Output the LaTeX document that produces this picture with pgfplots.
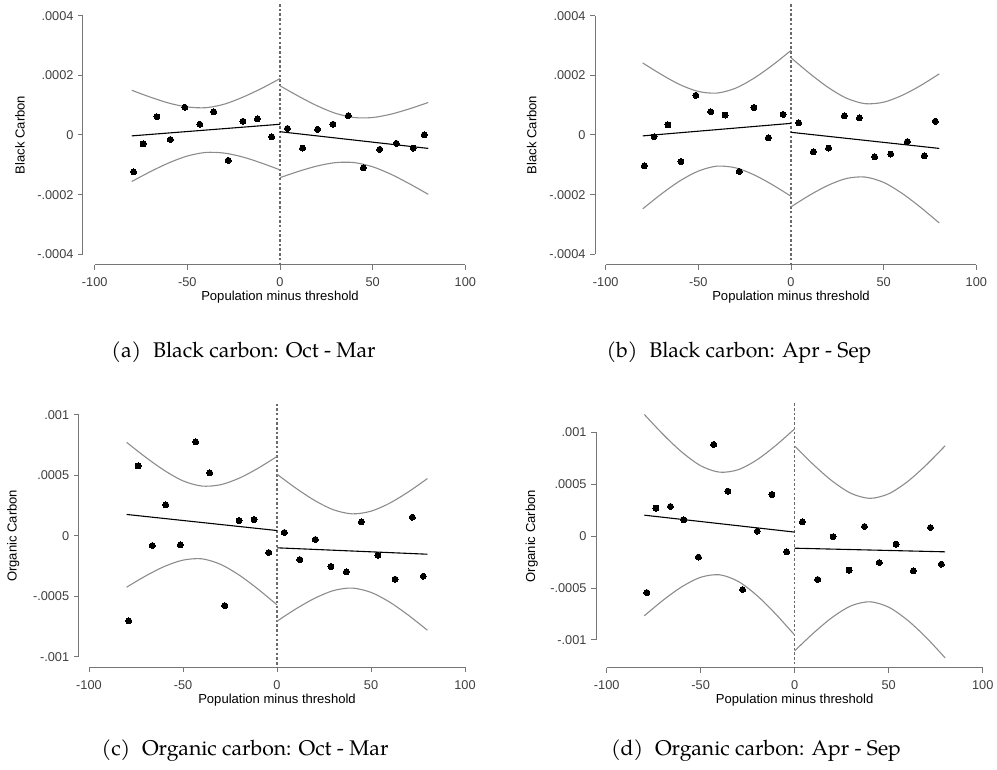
\documentclass[border=0pt]{standalone}
\usepackage{pgfplots}
\pgfplotsset{compat=1.18}
\usepackage{fontspec}
\setmainfont{Liberation Sans}
\newfontfamily\capfont{TeX Gyre Pagella}
\definecolor{axgray}{HTML}{767676}
\definecolor{lblgray}{HTML}{404040}
\definecolor{cigray}{HTML}{8C8C8C}
\definecolor{cutgray}{HTML}{6A6A6A}
\pgfplotsset{
 stata/.style={
  scale only axis,
  axis lines=left,
  axis line style={-, draw=axgray, line width=1bp},
  tick align=outside,
  major tick length=5bp,
  tick style={draw=axgray, line width=1bp},
  xmin=-100, xmax=100,
  xtick={-100,-50,0,50,100},
  xticklabels={-100,-50,0,50,100},
  scaled y ticks=false, scaled x ticks=false,
  ticklabel style={font=\fontsize{12.8}{14}\selectfont, text=lblgray},
  xticklabel style={yshift=-4.5bp},
  yticklabel style={xshift=-1bp},
  label style={font=\fontsize{13.1}{15}\selectfont, text=black},
  clip=false,
  minor tick num=0,
 },
 ci/.style={cigray, line width=1.1bp, smooth, no markers},
 fit/.style={black, line width=1.1bp, no markers},
 pts/.style={only marks, mark=*, mark size=3bp, mark options={fill=black, draw=black, line width=0pt}},
 cut/.style={cutgray, line width=1.1bp, dash pattern=on 2.5bp off 2.2bp, no markers},
}
\begin{document}
\begin{tikzpicture}
\path[use as bounding box] (0,0) rectangle (997bp,770bp);

% (a)
\begin{axis}[stata, at={(94.7bp,515.7bp)}, anchor=south west,
  width=370.6bp, height=238.6bp,
  axis x line shift=10.7bp, axis y line shift=11.7bp,
  ymin=-0.0004, ymax=0.0004,
  ytick={-0.0004,-0.0002,0,0.0002,0.0004},
  yticklabels={-.0004,-.0002,0,.0002,.0004},
  xlabel={Population minus threshold}, ylabel={Black Carbon},
  xlabel style={at={(axis description cs:0.5,-0.1957)}, anchor=base},
  ylabel style={at={(axis description cs:-0.2016,0.5)}, anchor=center}]
\addplot[cut] coordinates {(0,0.000439) (0,-0.000436)};
\addplot[ci] coordinates {(-80,0.000150) (-70,0.000127) (-60,0.000107) (-50,0.000094) (-40,0.0000915) (-30,0.0001035) (-20,0.000127) (-10,0.000156) (0,0.000189)};
\addplot[ci] coordinates {(-80,-0.000156) (-70,-0.000123) (-60,-0.0000935) (-50,-0.0000705) (-40,-0.0000585) (-30,-0.0000607) (-20,-0.000074) (-10,-0.000094) (0,-0.000117)};
\addplot[ci] coordinates {(0,0.000165) (10,0.000130) (20,0.000098) (30,0.0000726) (40,0.0000585) (50,0.0000586) (60,0.000070) (70,0.000088) (80,0.000109)};
\addplot[ci] coordinates {(0,-0.000143) (10,-0.000122) (20,-0.000104) (30,-0.0000926) (40,-0.0000925) (50,-0.0001066) (60,-0.000132) (70,-0.000164) (80,-0.000199)};
\addplot[fit] coordinates {(-80,-0.000003) (0,0.000036)};
\addplot[fit] coordinates {(0,0.000011) (80,-0.000045)};
\addplot[pts] coordinates {(-79.0,-0.000124) (-73.9,-0.000030) (-66.4,0.000061) (-59.2,-0.000015) (-51.4,0.000093) (-43.3,0.000036) (-35.8,0.000078) (-27.9,-0.000085) (-20.0,0.000046) (-12.2,0.000054) (-4.5,-0.000006) (4.0,0.000022) (12.2,-0.000044) (20.3,0.000019) (28.6,0.000036) (36.9,0.000065) (45.0,-0.000110) (53.8,-0.000048) (62.8,-0.000028) (71.9,-0.000044) (77.9,0.000001)};
\end{axis}

% (b)
\begin{axis}[stata, at={(605.7bp,515.7bp)}, anchor=south west,
  width=370.6bp, height=238.6bp,
  axis x line shift=10.7bp, axis y line shift=10.7bp,
  ymin=-0.0004, ymax=0.0004,
  ytick={-0.0004,-0.0002,0,0.0002,0.0004},
  yticklabels={-.0004,-.0002,0,.0002,.0004},
  xlabel={Population minus threshold}, ylabel={Black Carbon},
  xlabel style={at={(axis description cs:0.5,-0.1957)}, anchor=base},
  ylabel style={at={(axis description cs:-0.1997,0.5)}, anchor=center}]
\addplot[cut] coordinates {(0,0.000439) (0,-0.000436)};
\addplot[ci] coordinates {(-80,0.0002415) (-70,0.000203) (-60,0.000169) (-50,0.000146) (-40,0.0001405) (-30,0.0001567) (-20,0.0001904) (-10,0.000234) (0,0.0002835)};
\addplot[ci] coordinates {(-80,-0.0002475) (-70,-0.000198) (-60,-0.000154) (-50,-0.000121) (-40,-0.0001045) (-30,-0.000110) (-20,-0.0001334) (-10,-0.000167) (0,-0.0002055)};
\addplot[ci] coordinates {(0,0.000259) (10,0.0002067) (20,0.0001597) (30,0.0001232) (40,0.000105) (50,0.000110) (60,0.000133) (70,0.000166) (80,0.000205)};
\addplot[ci] coordinates {(0,-0.000241) (10,-0.000202) (20,-0.0001687) (30,-0.0001457) (40,-0.000141) (50,-0.000159) (60,-0.000196) (70,-0.000243) (80,-0.000295)};
\addplot[fit] coordinates {(-80,-0.000003) (0,0.000039)};
\addplot[fit] coordinates {(0,0.000009) (80,-0.000045)};
\addplot[pts] coordinates {(-79.1,-0.000103) (-73.9,-0.000006) (-66.4,0.000034) (-59.4,-0.000089) (-51.4,0.000133) (-43.3,0.000078) (-35.6,0.000067) (-27.9,-0.000122) (-20.0,0.000092) (-12.2,-0.000009) (-4.3,0.000069) (4.1,0.000041) (12.1,-0.000056) (20.3,-0.000044) (28.8,0.000064) (36.9,0.000057) (45.1,-0.000073) (53.8,-0.000064) (62.8,-0.000022) (71.9,-0.000070) (77.9,0.000046)};
\end{axis}

% (c)
\begin{axis}[stata, at={(89bp,113.3bp)}, anchor=south west,
  width=376bp, height=241.7bp,
  axis x line shift=10.6bp, axis y line shift=10.3bp,
  ymin=-0.001, ymax=0.001,
  ytick={-0.001,-0.0005,0,0.0005,0.001},
  yticklabels={-.001,-.0005,0,.0005,.001},
  xlabel={Population minus threshold}, ylabel={Organic Carbon},
  xlabel style={at={(axis description cs:0.5,-0.1928)}, anchor=base},
  ylabel style={at={(axis description cs:-0.2013,0.5)}, anchor=center}]
\addplot[cut] coordinates {(0,0.001095) (0,-0.001088)};
\addplot[ci] coordinates {(-80,0.000774) (-70,0.000652) (-60,0.000542) (-50,0.000455) (-40,0.000412) (-30,0.000423) (-20,0.000478) (-10,0.000560) (0,0.000657)};
\addplot[ci] coordinates {(-80,-0.000425) (-70,-0.000333) (-60,-0.000254) (-50,-0.000201) (-40,-0.000190) (-30,-0.000236) (-20,-0.000326) (-10,-0.000442) (0,-0.000571)};
\addplot[ci] coordinates {(0,0.000510) (10,0.000395) (20,0.000293) (30,0.000216) (40,0.000182) (50,0.000204) (60,0.000271) (70,0.000365) (80,0.000474)};
\addplot[ci] coordinates {(0,-0.000706) (10,-0.000605) (20,-0.000517) (30,-0.000453) (40,-0.000432) (50,-0.000468) (60,-0.000549) (70,-0.000658) (80,-0.000781)};
\addplot[fit] coordinates {(-80,0.000177) (0,0.000044)};
\addplot[fit] coordinates {(0,-0.000099) (80,-0.000152)};
\addplot[pts] coordinates {(-78.9,-0.000703) (-73.9,0.000579) (-66.3,-0.000080) (-59.2,0.000257) (-51.4,-0.000074) (-43.3,0.000778) (-35.8,0.000521) (-27.8,-0.000577) (-20.2,0.000127) (-12.2,0.000135) (-4.4,-0.000138) (3.9,0.000028) (12.1,-0.000196) (20.4,-0.000030) (28.7,-0.000254) (36.9,-0.000298) (44.9,0.000116) (53.7,-0.000160) (62.8,-0.000359) (72.0,0.000154) (77.8,-0.000334)};
\end{axis}

% (d)
\begin{axis}[stata, at={(606.7bp,130bp)}, anchor=south west,
  width=376bp, height=207.7bp,
  axis x line shift=27.7bp, axis y line shift=10.7bp,
  ymin=-0.001, ymax=0.001,
  ytick={-0.001,-0.0005,0,0.0005,0.001},
  yticklabels={-.001,-.0005,0,.0005,.001},
  xlabel={Population minus threshold}, ylabel={Organic Carbon},
  xlabel style={at={(axis description cs:0.5,-0.3067)}, anchor=base},
  ylabel style={at={(axis description cs:-0.1995,0.5)}, anchor=center}]
\addplot[cut] coordinates {(0,0.001279) (0,-0.001267)};
\addplot[ci] coordinates {(-80,0.001172) (-70,0.000980) (-60,0.000809) (-50,0.000678) (-40,0.000616) (-30,0.000640) (-20,0.000736) (-10,0.000874) (0,0.001034)};
\addplot[ci] coordinates {(-80,-0.000767) (-70,-0.000617) (-60,-0.000487) (-50,-0.000396) (-40,-0.000372) (-30,-0.000436) (-20,-0.000573) (-10,-0.000752) (0,-0.000953)};
\addplot[ci] coordinates {(0,0.000867) (10,0.000688) (20,0.000530) (30,0.000412) (40,0.000364) (50,0.000408) (60,0.000525) (70,0.000686) (80,0.000870)};
\addplot[ci] coordinates {(0,-0.001104) (10,-0.000933) (20,-0.000782) (30,-0.000671) (40,-0.000632) (50,-0.000684) (60,-0.000809) (70,-0.000977) (80,-0.001172)};
\addplot[fit] coordinates {(-80,0.000202) (0,0.000039)};
\addplot[fit] coordinates {(0,-0.000116) (80,-0.000151)};
\addplot[pts] coordinates {(-78.7,-0.000543) (-73.8,0.000270) (-66.1,0.000286) (-59.0,0.000157) (-51.2,-0.000202) (-43.1,0.000883) (-35.5,0.000433) (-27.7,-0.000514) (-19.9,0.000048) (-12.1,0.000401) (-4.3,-0.000151) (4.1,0.000138) (12.2,-0.000417) (20.4,-0.000006) (28.9,-0.000327) (37.1,0.000093) (45.0,-0.000254) (53.9,-0.000077) (63.1,-0.000334) (72.2,0.000083) (78.0,-0.000270)};
\end{axis}

\node[font=\capfont\fontsize{21.3}{25}\selectfont, anchor=base] at (243.5bp,412.7bp) {(a)\hspace{0.55em}Black carbon: Oct - Mar};
\node[font=\capfont\fontsize{21.3}{25}\selectfont, anchor=base] at (739bp,412.7bp) {(b)\hspace{0.55em}Black carbon: Apr - Sep};
\node[font=\capfont\fontsize{21.3}{25}\selectfont, anchor=base] at (245bp,14.5bp) {(c)\hspace{0.55em}Organic carbon: Oct - Mar};
\node[font=\capfont\fontsize{21.3}{25}\selectfont, anchor=base] at (756bp,14.5bp) {(d)\hspace{0.55em}Organic carbon: Apr - Sep};
\end{tikzpicture}
\end{document}
